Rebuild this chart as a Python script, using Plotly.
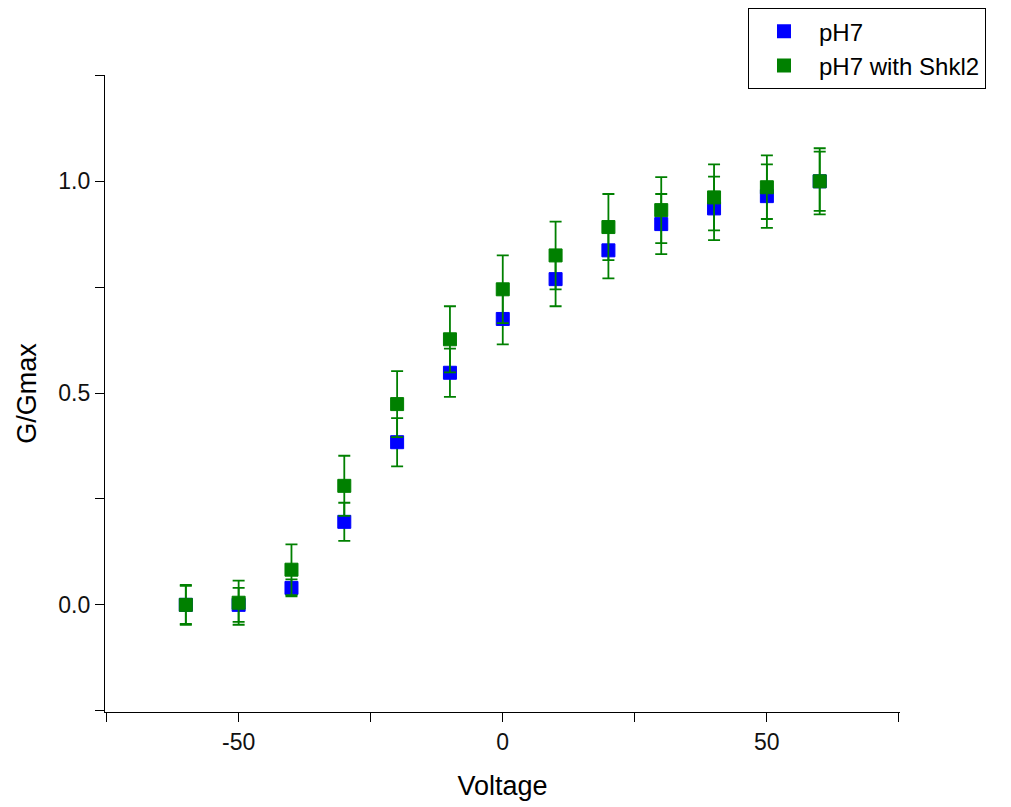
import plotly.graph_objects as go

voltage = [-60, -50, -40, -30, -20, -10, 0, 10, 20, 30, 40, 50, 60]
ph7 = [0.0, 0.0, 0.04, 0.196, 0.384, 0.548, 0.675, 0.769, 0.837, 0.899, 0.936, 0.965, 1.0]
ph7_err = [0.045, 0.04, 0.02, 0.045, 0.057, 0.057, 0.06, 0.064, 0.066, 0.071, 0.075, 0.075, 0.07]
shkl2 = [0.0, 0.005, 0.083, 0.281, 0.474, 0.627, 0.745, 0.825, 0.892, 0.932, 0.962, 0.986, 1.0]
shkl2_err = [0.047, 0.052, 0.06, 0.071, 0.078, 0.078, 0.08, 0.08, 0.078, 0.078, 0.078, 0.075, 0.078]

x_tickvals = [-75, -50, -25, 0, 25, 50, 75]
x_ticktext = ["", "-50", "", "0", "", "50", ""]
y_tickvals = [-0.25, 0.0, 0.25, 0.5, 0.75, 1.0, 1.25]
y_ticktext = ["", "0.0", "", "0.5", "", "1.0", ""]

BLUE = "#0000FF"
GREEN = "#008000"

fig = go.Figure()
fig.add_trace(go.Scatter(
    x=voltage, y=ph7, mode="markers", name="pH7",
    marker=dict(symbol="square", size=13, color=BLUE, line=dict(width=1, color=BLUE)),
    error_y=dict(type="data", array=ph7_err, visible=True, color=GREEN, thickness=1.8, width=6),
))
fig.add_trace(go.Scatter(
    x=voltage, y=shkl2, mode="markers", name="pH7 with Shkl2",
    marker=dict(symbol="square", size=13, color=GREEN, line=dict(width=1, color=GREEN)),
    error_y=dict(type="data", array=shkl2_err, visible=True, color=GREEN, thickness=1.8, width=6),
))

axis_common = dict(
    showline=True, linecolor="black", linewidth=1.3,
    ticks="outside", ticklen=9, tickwidth=1.3, tickcolor="black",
    showgrid=False, zeroline=False, automargin=False,
    tickfont=dict(family="Liberation Sans, Arial", size=23, color="#111111"),
)

# page body adds an 8px offset, so the figure is drawn 8px smaller
fig.update_layout(
    width=1003, height=799,
    margin=dict(l=97, r=111, t=67, b=95, autoexpand=False),
    paper_bgcolor="white", plot_bgcolor="white",
    font=dict(family="Liberation Sans, Arial", color="black"),
    xaxis=dict(range=[-75.3, 75.2], tickmode="array", tickvals=x_tickvals, ticktext=x_ticktext,
               title=dict(text="Voltage", font=dict(size=27), standoff=22), **axis_common),
    yaxis=dict(range=[-0.253, 1.251], tickmode="array", tickvals=y_tickvals, ticktext=y_ticktext,
               title=dict(text="G/Gmax", font=dict(size=27), standoff=13), **axis_common),
    legend=dict(x=0.8088, y=1.105, xanchor="left", yanchor="top",
                bordercolor="black", borderwidth=1, bgcolor="white",
                font=dict(size=24, family="Liberation Sans, Arial"),
                tracegroupgap=0, itemwidth=60, itemsizing="constant"),
    showlegend=True,
)

fig.write_html("out.html")
